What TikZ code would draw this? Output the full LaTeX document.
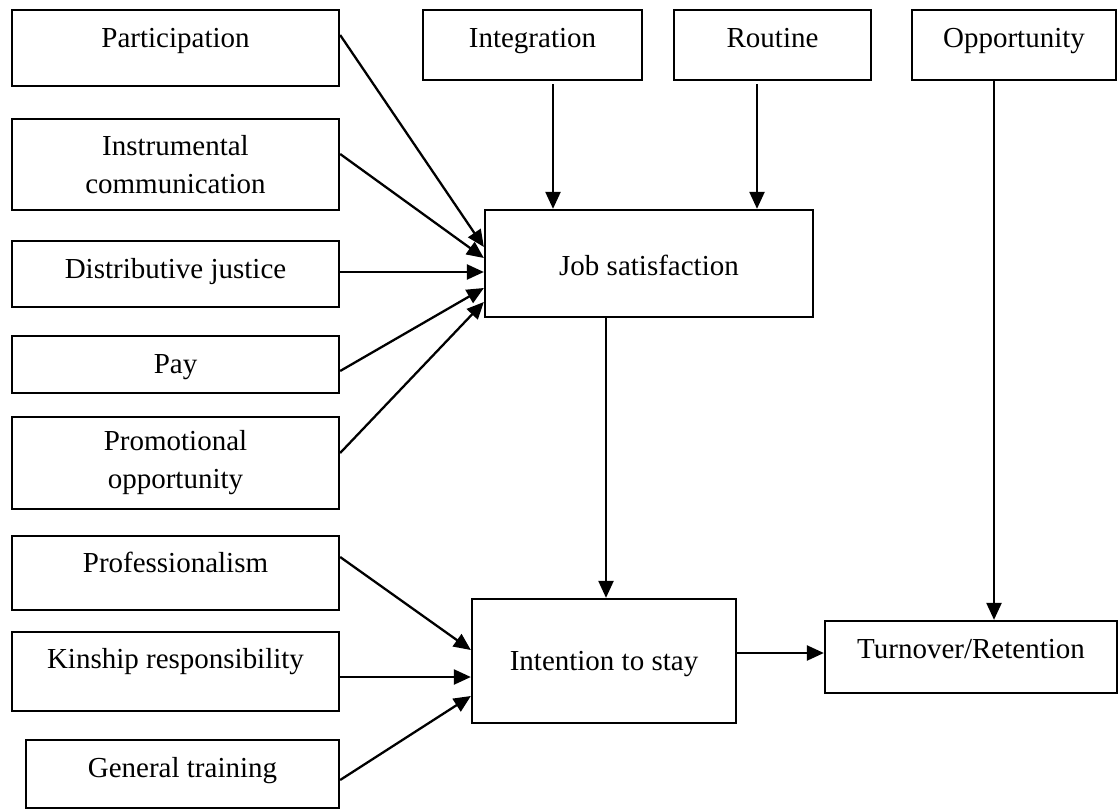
\documentclass[tikz,border=0pt]{standalone}
\usepackage{fontspec}
\setmainfont{Liberation Serif}
\usetikzlibrary{positioning, arrows.meta, calc}

\begin{document}
\begin{tikzpicture}[
    box/.style={rectangle, draw, line width=1.3pt, inner sep=0pt, align=center, font=\fontsize{16.5}{21.6}\selectfont},
    arr/.style={draw, line width=1.3pt, -{Triangle[length=0.34cm, width=0.3cm]}}
]
    \useasboundingbox (0,0) rectangle (22.38,-16.2);

    % Left column
    \node[box, minimum width=6.54cm, text height=0.76cm, text depth=0.76cm] (part) at (3.51, -0.96) {Participation};
    \node[box, minimum width=6.54cm, minimum height=1.82cm] (instr) at (3.51, -3.29) {Instrumental\\communication};
    \node[box, minimum width=6.54cm, text height=0.74cm, text depth=0.58cm] (dist) at (3.51, -5.48) {Distributive justice};
    \node[box, minimum width=6.54cm, text height=0.74cm, text depth=0.40cm] (pay) at (3.51, -7.29) {Pay};
    \node[box, minimum width=6.54cm, minimum height=1.84cm] (promo) at (3.51, -9.26) {Promotional\\opportunity};
    \node[box, minimum width=6.54cm, text height=0.72cm, text depth=0.76cm] (prof) at (3.51, -11.46) {Professionalism};
    \node[box, minimum width=6.54cm, text height=0.72cm, text depth=0.86cm] (kin) at (3.51, -13.43) {Kinship responsibility};
    \node[box, minimum width=6.26cm, text height=0.74cm, text depth=0.62cm] (gen) at (3.65, -15.48) {General training};

    % Top row
    \node[box, minimum width=4.38cm, text height=0.76cm, text depth=0.64cm] (integ) at (10.65, -0.90) {Integration};
    \node[box, minimum width=3.94cm, text height=0.76cm, text depth=0.64cm] (rout) at (15.45, -0.90) {Routine};
    \node[box, minimum width=4.08cm, text height=0.76cm, text depth=0.64cm] (opp) at (20.28, -0.90) {Opportunity};

    % Outcomes
    \node[box, minimum width=6.56cm, text height=1.30cm, text depth=0.84cm] (job) at (12.98, -5.27) {Job satisfaction};
    \node[box, minimum width=5.28cm, text height=1.42cm, text depth=1.06cm] (intent) at (12.08, -13.22) {Intention to stay};
    \node[box, minimum width=5.84cm, text height=0.74cm, text depth=0.70cm] (turn) at (19.42, -13.14) {Turnover/Retention};

    % Arrows into job satisfaction
    \draw[arr] ([yshift=0.26cm]part.east) -- ([yshift=0.33cm]job.west);
    \draw[arr] ([yshift=0.21cm]instr.east) -- ([yshift=0.11cm]job.west);
    \draw[arr] ([yshift=0.04cm]dist.east) -- ([yshift=0.04cm]dist.east -| job.west);
    \draw[arr] ([yshift=-0.13cm]pay.east) -- ([yshift=-0.49cm]job.west);
    \draw[arr] ([yshift=0.20cm]promo.east) -- ([yshift=-0.77cm]job.west);
    \draw[arr] ([xshift=0.41cm, yshift=-0.06cm]integ.south) -- ([xshift=0.41cm]integ.south |- job.north);
    \draw[arr] ([xshift=-0.31cm, yshift=-0.06cm]rout.south) -- ([xshift=-0.31cm]rout.south |- job.north);

    % Arrows into intention to stay
    \draw[arr] ([xshift=-0.86cm]job.south) -- ([xshift=-0.86cm]job.south |- intent.north);
    \draw[arr] ([yshift=0.32cm]prof.east) -- ([yshift=0.22cm]intent.west);
    \draw[arr] ([yshift=-0.11cm]kin.east) -- ([yshift=-0.11cm]kin.east -| intent.west);
    \draw[arr] ([yshift=-0.12cm]gen.east) -- ([yshift=-0.70cm]intent.west);

    % Arrows into turnover
    \draw[arr] ([yshift=0.16cm]intent.east) -- ([yshift=0.16cm]intent.east -| turn.west);
    \draw[arr] ([xshift=-0.40cm]opp.south) -- ([xshift=-0.40cm]opp.south |- turn.north);

\end{tikzpicture}
\end{document}
